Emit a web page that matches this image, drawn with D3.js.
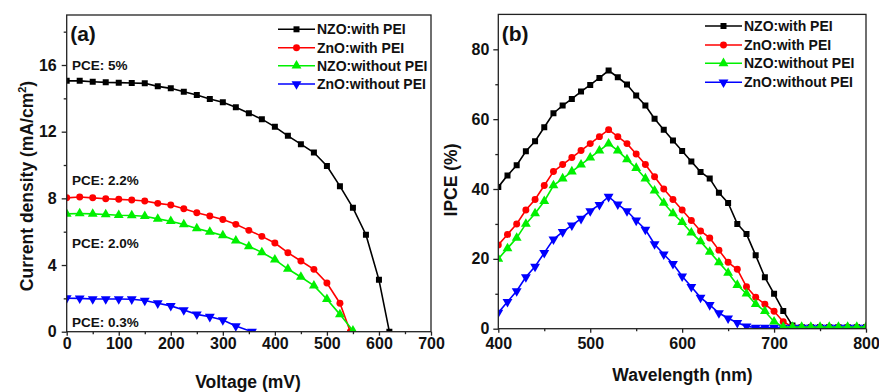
<!DOCTYPE html>
<html>
<head>
<meta charset="utf-8">
<script src="https://cdn.jsdelivr.net/npm/d3@7"></script>
<style>
  html, body { margin: 0; padding: 0; background: #fff; }
  svg text { font-family: "Liberation Sans", Arial, sans-serif; font-weight: bold; fill: #111; }
</style>
</head>
<body>
<svg id="chart" width="879" height="392"></svg>
<script>
// ---- data: panel (a) J-V curves ----
const seriesNames = ['NZO:with PEI', 'ZnO:with PEI', 'NZO:without PEI', 'ZnO:without PEI'];
const seriesColors = ['#000000', '#ff0000', '#00f000', '#0000ff'];

const vNzoPei = [0, 25, 50, 75, 100, 125, 150, 175, 200, 225, 250, 275, 300, 325, 350, 375, 400, 425, 450, 475, 500, 525, 550, 575, 600, 620];
const jNzoPei = [15.05, 15.05, 15.0, 14.96, 14.94, 14.92, 14.9, 14.72, 14.6, 14.4, 14.2, 13.96, 13.76, 13.46, 13.11, 12.75, 12.29, 11.75, 11.25, 10.75, 9.94, 8.73, 7.43, 5.82, 3.11, 0];

const vZnoPei = [0, 25, 50, 75, 100, 125, 150, 175, 200, 225, 250, 275, 300, 325, 350, 375, 400, 425, 450, 475, 500, 525, 545];
const jZnoPei = [8.03, 8.08, 8.03, 7.98, 7.94, 7.9, 7.84, 7.7, 7.6, 7.38, 7.14, 6.94, 6.73, 6.44, 6.08, 5.72, 5.32, 4.74, 4.24, 3.74, 2.92, 1.71, 0];

const vNzoNo = [0, 25, 50, 75, 100, 125, 150, 175, 200, 225, 250, 275, 300, 325, 350, 375, 400, 425, 450, 475, 500, 525, 550];
const jNzoNo = [7.07, 7.09, 7.07, 7.03, 6.99, 6.97, 6.93, 6.77, 6.63, 6.43, 6.19, 5.99, 5.77, 5.46, 5.12, 4.76, 4.32, 3.76, 3.28, 2.76, 1.95, 1.04, 0.06];

const vZnoNo = [0, 25, 50, 75, 100, 125, 150, 175, 200, 225, 250, 275, 300, 325, 356];
const jZnoNo = [2.01, 2.0, 1.96, 1.96, 1.96, 1.95, 1.87, 1.71, 1.55, 1.3, 1.04, 0.9, 0.7, 0.34, 0.0];

const pceLabels = ['PCE: 5%', 'PCE: 2.2%', 'PCE: 2.0%', 'PCE: 0.3%'];
const pceLabelJ = [16.0, 9.1, 5.3, 0.6];

// ---- data: panel (b) IPCE spectra ----
const wavelength = d3.range(400, 801, 10);
const ipceNzoPei = [40.6, 43.9, 46.8, 50.8, 53.7, 57.7, 61.7, 63.9, 65.8, 67.9, 69.8, 71.8, 73.9, 72, 69.9, 66.8, 63.9, 60.1, 57, 53.9, 50.9, 47.9, 44.9, 43, 38.9, 36, 30, 27.1, 21, 14.7, 10, 5.1, 0.9, 0.5, 0.5, 0.5, 0.5, 0.5, 0.5, 0.5, 0.5];
const ipceZnoPei = [24, 27, 30, 34, 37, 41, 45, 47, 49, 51, 53, 55, 57, 55, 53, 50, 47, 43.5, 40, 37, 34, 31, 28, 26, 22.5, 19, 17, 12, 9, 7, 5, 2, 0.5, 0.4, 0.4, 0.4, 0.4, 0.4, 0.4, 0.4, 0.4];
const ipceNzoNo = [20, 23, 26, 30, 33, 36.5, 41, 43, 45, 47, 49, 51, 53, 51, 48.5, 46, 43, 39.5, 36, 33, 30.5, 27.5, 25, 22, 19, 16, 12.5, 10, 7, 5, 2, 0.5, 0.5, 0.5, 0.5, 0.5, 0.5, 0.5, 0.5, 0.5, 0.5];
const ipceZnoNo = [4.6, 7.7, 10.8, 14.8, 17.8, 21.7, 25.6, 27.7, 29.6, 31.5, 33.7, 35.5, 37.8, 35.6, 33.7, 31, 28.4, 24.2, 21.3, 18.6, 15, 12, 8.9, 6.8, 4.5, 3, 1.7, 0.7, 0.3, 0.3, 0.3, 0.3, 0.3, 0.3, 0.3, 0.3, 0.3, 0.3, 0.3, 0.3, 0.3];

// ---- axis ticks ----
const vTicks = [0, 100, 200, 300, 400, 500, 600, 700];
const vMinor = [50, 150, 250, 350, 450, 550, 650];
const jTicks = [0, 4, 8, 12, 16];
const jMinor = [2, 6, 10, 14, 18];
const wTicks = [400, 500, 600, 700, 800];
const wMinor = [450, 550, 650, 750];
const ipceTicks = [0, 20, 40, 60, 80];
const ipceMinor = [10, 30, 50, 70];

const svg = d3.select('#chart');
const markerShapes = [d3.symbolSquare, d3.symbolCircle, d3.symbolTriangle, d3.symbolTriangle];
const markerSizes = [36, 38, 42, 42];
const markerRotate = [0, 0, 0, 180];

function marker(g, i, x, y) {
  g.append('path')
    .attr('d', d3.symbol().type(markerShapes[i]).size(markerSizes[i])())
    .attr('transform', `translate(${x},${y}) rotate(${markerRotate[i]})`)
    .attr('fill', seriesColors[i]);
}

function drawPanel(cfg) {
  const { x, y, id } = cfg;
  const [x0, x1] = x.range();
  const [y0, y1] = y.range();

  // clip for data
  svg.append('clipPath').attr('id', id)
    .append('rect')
    .attr('x', x0).attr('y', y1)
    .attr('width', x1 - x0).attr('height', y0 - y1);

  const plot = svg.append('g').attr('clip-path', `url(#${id})`);
  const order = [0, 1, 3, 2];
  order.forEach((i) => {
    const xs = cfg.xs[i];
    const ys = cfg.ys[i];
    const pts = xs.map((d, k) => [x(d), y(ys[k])]);
    plot.append('path')
      .attr('d', d3.line()(pts))
      .attr('fill', 'none')
      .attr('stroke', seriesColors[i])
      .attr('stroke-width', 1.6);
    pts.forEach((p) => marker(plot, i, p[0], p[1]));
  });

  // axes
  const xAxis = svg.append('g')
    .attr('transform', `translate(0,${y0})`)
    .call(d3.axisBottom(x).tickValues(cfg.xTicks).tickSize(4).tickPadding(cfg.xPad).tickSizeOuter(0));
  svg.append('g')
    .attr('transform', `translate(0,${y0})`)
    .call(d3.axisBottom(x).tickValues(cfg.xMinor).tickSize(2.5).tickFormat('').tickSizeOuter(0));
  const yAxis = svg.append('g')
    .attr('transform', `translate(${x0},0)`)
    .call(d3.axisLeft(y).tickValues(cfg.yTicks).tickSize(5).tickPadding(cfg.yPad).tickSizeOuter(0));
  svg.append('g')
    .attr('transform', `translate(${x0},0)`)
    .call(d3.axisLeft(y).tickValues(cfg.yMinor).tickSize(3).tickFormat('').tickSizeOuter(0));
  svg.selectAll('.domain').remove();
  svg.selectAll('.tick line').attr('stroke', '#222').attr('stroke-width', 1.3);
  [xAxis, yAxis].forEach((a) => a.selectAll('text').attr('font-size', 16).attr('fill', '#111'));

  // frame
  svg.append('rect')
    .attr('x', x0).attr('y', y1)
    .attr('width', x1 - x0).attr('height', y0 - y1)
    .attr('fill', 'none').attr('stroke', '#222').attr('stroke-width', 1.3);

  // panel tag
  svg.append('text').attr('x', x0 + 3.5).attr('y', 41).attr('font-size', 21).text(cfg.tag);

  // legend
  seriesNames.forEach((name, i) => {
    const cy = cfg.legY[i];
    svg.append('line')
      .attr('x1', cfg.legX).attr('x2', cfg.legX + 37)
      .attr('y1', cy).attr('y2', cy)
      .attr('stroke', seriesColors[i]).attr('stroke-width', 1.6);
    marker(svg, i, cfg.legX + 18.5, cy);
    svg.append('text').attr('x', cfg.legX + 39).attr('y', cy + 5)
      .attr('font-size', 14).text(name);
  });

  // axis titles
  svg.append('text').attr('x', cfg.xTitle[0]).attr('y', cfg.xTitle[1])
    .attr('text-anchor', 'middle').attr('font-size', 17.5).text(cfg.xLabel);
  const yt = svg.append('text')
    .attr('transform', `translate(${cfg.yTitle[0]},${cfg.yTitle[1]}) rotate(-90)`)
    .attr('text-anchor', 'middle').attr('font-size', 17.5);
  yt.append('tspan').text(cfg.yLabel);
  if (cfg.yLabelSup) {
    yt.append('tspan').attr('font-size', 11).attr('dy', -7).text(cfg.yLabelSup);
    yt.append('tspan').attr('dy', 7).text(')');
  }
}

// panel (a)
const xa = d3.scaleLinear().domain([0, 700]).range([66.7, 431]);
const ya = d3.scaleLinear().domain([0, 19]).range([331.7, 15]);
drawPanel({
  id: 'clipA', x: xa, y: ya, tag: '(a)',
  xs: [vNzoPei, vZnoPei, vNzoNo, vZnoNo],
  ys: [jNzoPei, jZnoPei, jNzoNo, jZnoNo],
  xTicks: vTicks, xMinor: vMinor, yTicks: jTicks, yMinor: jMinor, xPad: 1.5, yPad: 5,
  legX: 278, legY: [29.3, 47.7, 65.7, 84],
  xLabel: 'Voltage (mV)', xTitle: [248, 388],
  yLabel: 'Current density (mA/cm', yLabelSup: '2', yTitle: [33, 186],
});

pceLabels.forEach((t, i) => {
  svg.append('text').attr('x', 72).attr('y', ya(pceLabelJ[i]) + 5)
    .attr('font-size', 13.5).text(t);
});

// panel (b)
const xb = d3.scaleLinear().domain([400, 800]).range([498.3, 866]);
const yb = d3.scaleLinear().domain([0, 90]).range([328.7, 14.4]);
drawPanel({
  id: 'clipB', x: xb, y: yb, tag: '(b)',
  xs: [wavelength, wavelength, wavelength, wavelength],
  ys: [ipceNzoPei, ipceZnoPei, ipceNzoNo, ipceZnoNo],
  xTicks: wTicks, xMinor: wMinor, yTicks: ipceTicks, yMinor: ipceMinor, xPad: 4.5, yPad: 4,
  legX: 705, legY: [26, 45, 63.3, 82.3],
  xLabel: 'Wavelength (nm)', xTitle: [682.5, 381],
  yLabel: 'IPCE (%)', yTitle: [457, 180],
});
</script>
</body>
</html>
